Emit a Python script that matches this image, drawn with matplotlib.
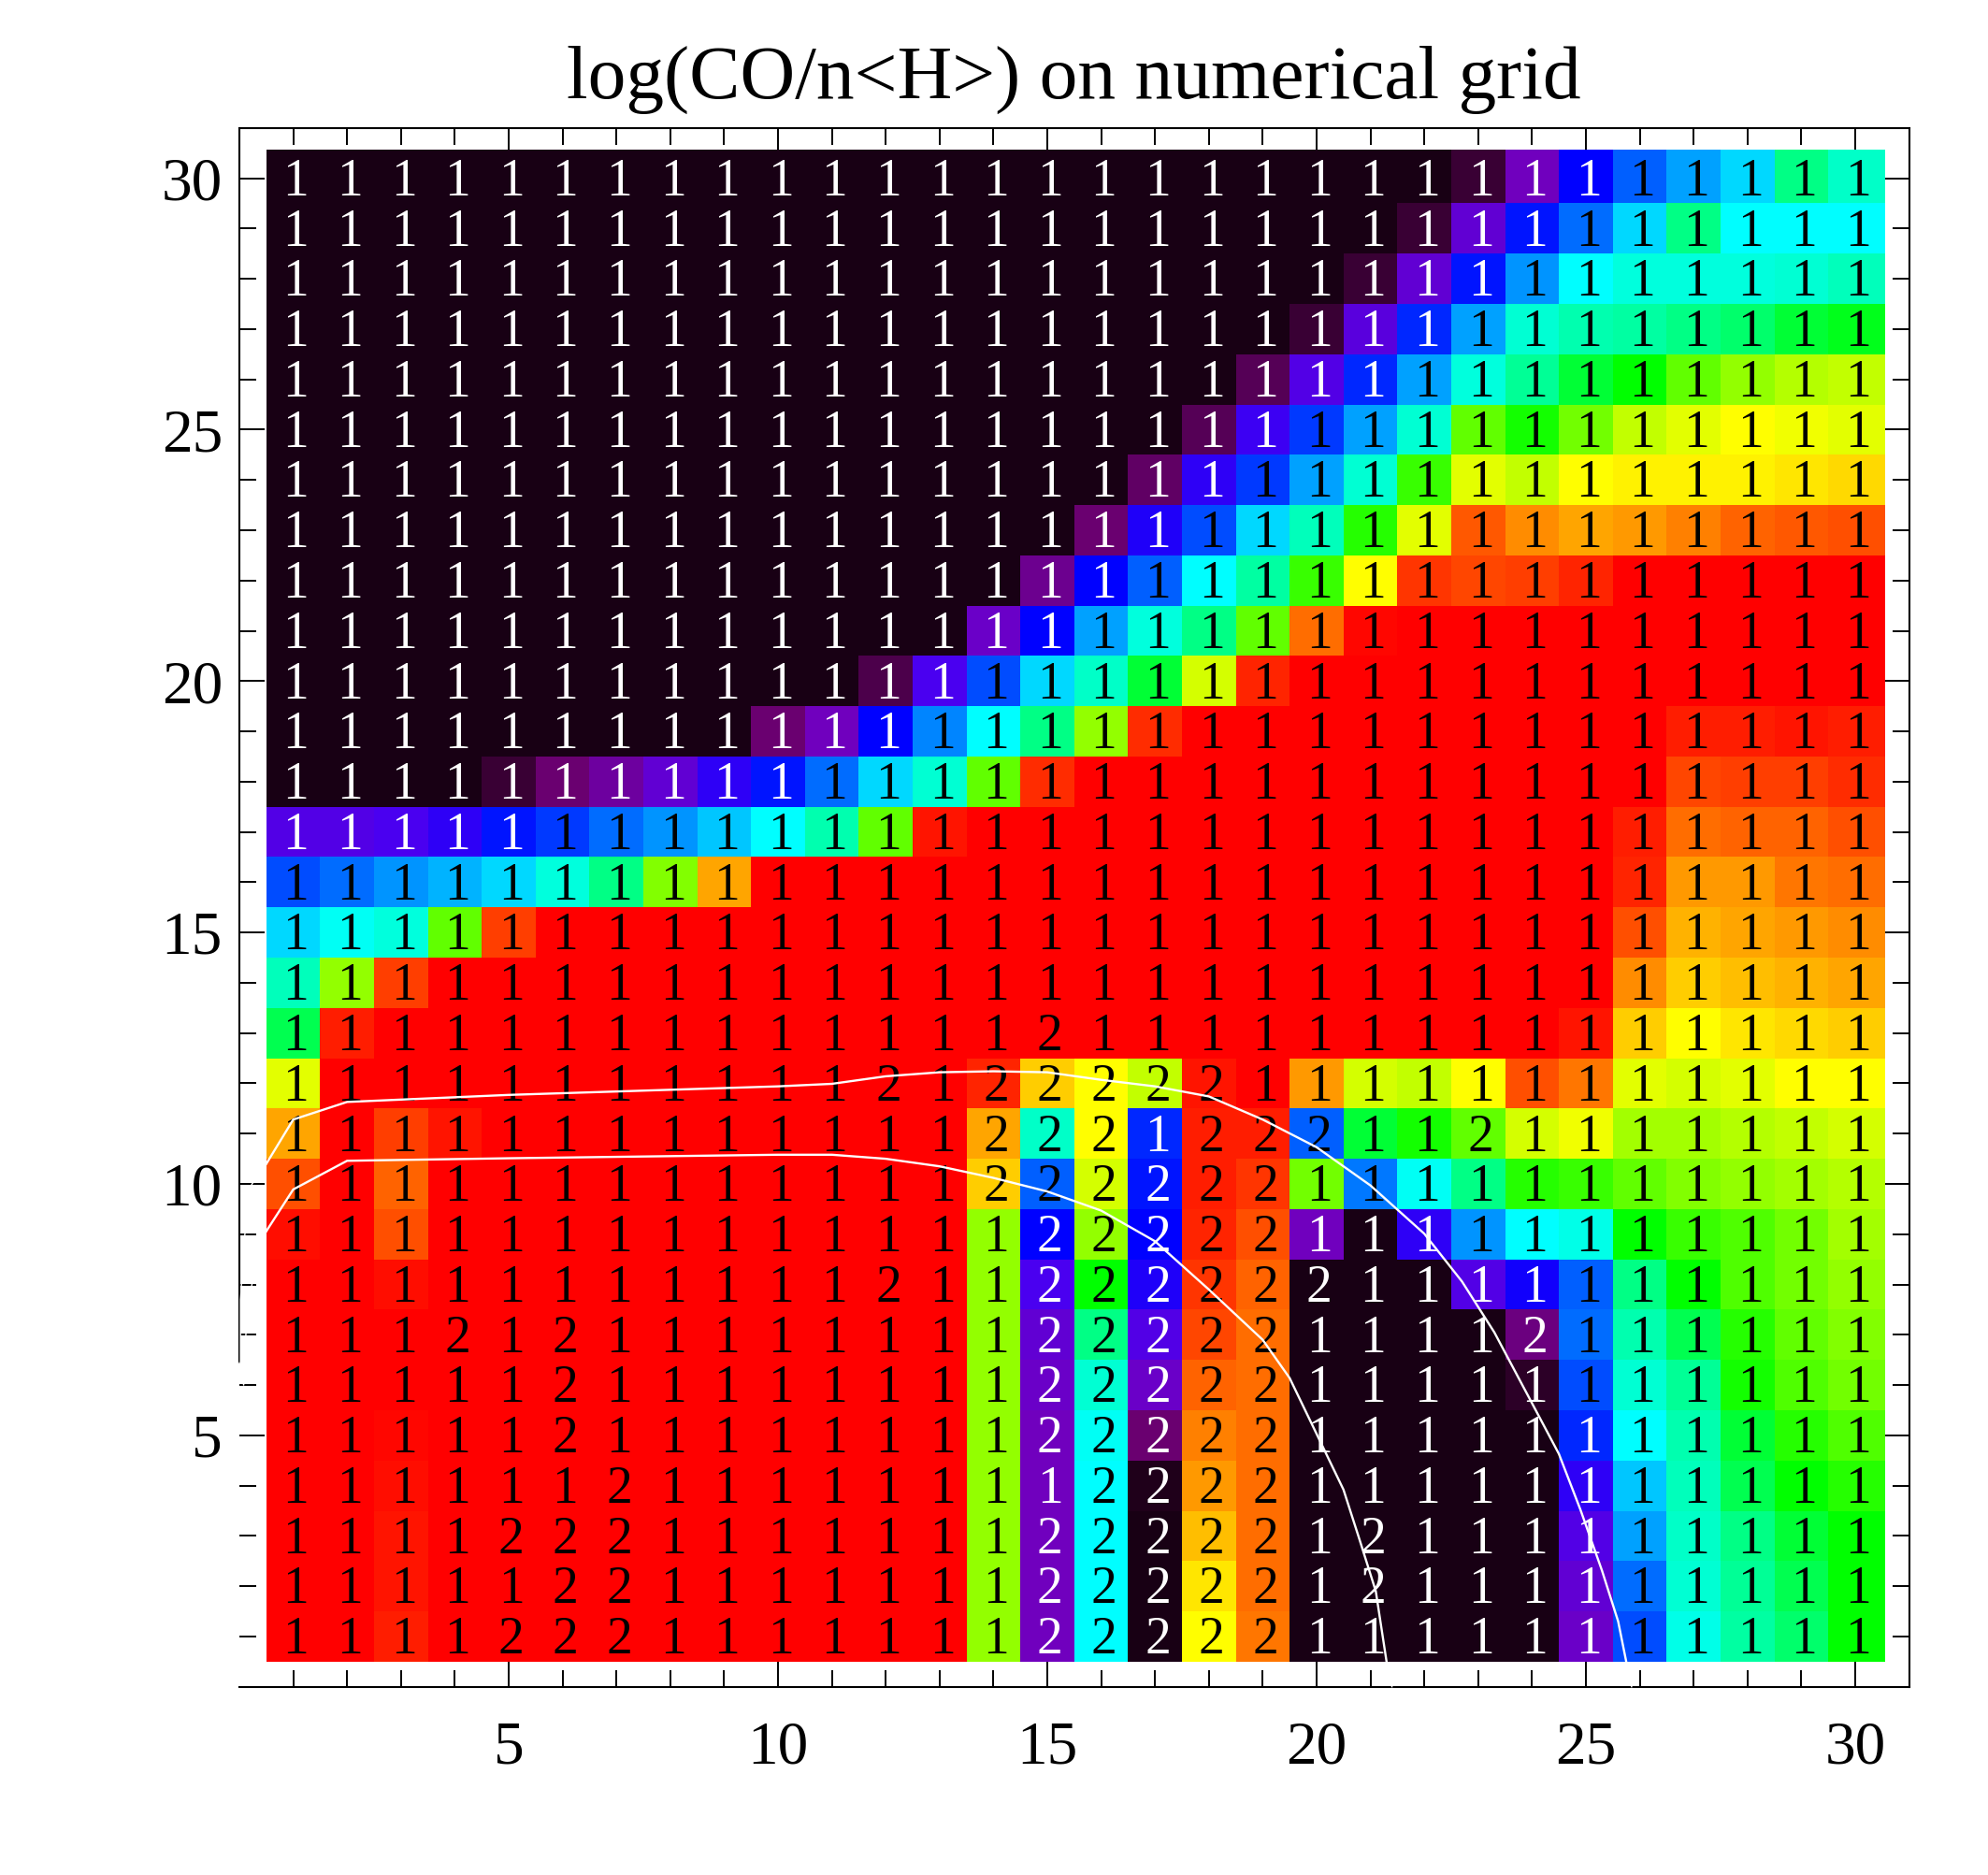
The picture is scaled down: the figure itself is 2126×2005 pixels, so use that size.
import numpy as np
import matplotlib
matplotlib.use("Agg")
import matplotlib.pyplot as plt
from matplotlib.colors import LinearSegmentedColormap

plt.rcParams['font.family'] = ['Liberation Serif', 'DejaVu Serif']

TITLE = "log(CO/n<H>) on numerical grid"
MAJOR_TICKS = [5, 10, 15, 20, 25, 30]
MINOR_TICKS = list(range(1, 31))

# Colour index per grid cell, rows listed from y=30 down to y=1
cell_rows = [
 [0,0,0,0,0,0,0,0,0,0,0,0,0,0,0,0,0,0,0,0,0,0,5,15,25,30,35,38,50,45],
 [0,0,0,0,0,0,0,0,0,0,0,0,0,0,0,0,0,0,0,0,0,5,17,26,31,38,50,40,40,40],
 [0,0,0,0,0,0,0,0,0,0,0,0,0,0,0,0,0,0,0,0,5,17,26,34,40,43,43,43,44,46],
 [0,0,0,0,0,0,0,0,0,0,0,0,0,0,0,0,0,0,0,5,18,27,35,44,47,48,50,51,53,54],
 [0,0,0,0,0,0,0,0,0,0,0,0,0,0,0,0,0,0,8,19,27,35,43,49,53,55,60,63,65,66],
 [0,0,0,0,0,0,0,0,0,0,0,0,0,0,0,0,0,8,21,28,35,44,60,56,61,66,68,70,69,68],
 [0,0,0,0,0,0,0,0,0,0,0,0,0,0,0,0,9,22,28,35,44,58,68,66,70,71,71,71,72,73],
 [0,0,0,0,0,0,0,0,0,0,0,0,0,0,0,10,23,29,38,46,57,68,84,79,77,78,80,83,84,85],
 [0,0,0,0,0,0,0,0,0,0,0,0,0,0,12,25,30,40,48,58,70,88,86,87,90,95,95,95,95,95],
 [0,0,0,0,0,0,0,0,0,0,0,0,0,16,25,35,43,50,60,82,94,95,95,95,95,95,95,95,95,95],
 [0,0,0,0,0,0,0,0,0,0,0,7,20,29,38,45,53,67,90,95,95,95,95,95,95,95,95,95,95,95],
 [0,0,0,0,0,0,0,0,0,10,15,25,33,40,50,63,89,95,95,95,95,95,95,95,95,95,91,91,92,91],
 [0,0,0,0,5,10,13,17,22,26,31,38,44,60,89,95,95,95,95,95,95,95,95,95,95,95,86,87,87,89],
 [19,19,20,22,26,28,31,34,37,40,47,60,92,95,95,95,95,95,95,95,95,95,95,95,95,91,82,83,83,85],
 [29,31,34,36,38,43,50,62,77,95,95,95,95,95,95,95,95,95,95,95,95,95,95,95,95,90,78,78,81,82],
 [38,41,43,60,87,95,95,95,95,95,95,95,95,95,95,95,95,95,95,95,95,95,95,95,95,85,76,77,78,79],
 [46,63,87,95,95,95,95,95,95,95,95,95,95,95,95,95,95,95,95,95,95,95,95,95,95,79,74,75,76,77],
 [52,91,95,95,95,95,95,95,95,95,95,95,95,95,95,95,95,95,95,95,95,95,95,95,92,74,70,72,73,74],
 [68,95,95,95,95,95,95,95,95,95,95,95,95,90,74,70,66,92,95,78,67,66,70,85,81,68,67,68,70,70],
 [77,95,87,92,95,95,95,95,95,95,95,95,95,77,45,70,27,91,91,30,53,56,60,67,69,64,64,65,66,67],
 [85,95,83,95,95,95,95,95,95,95,95,95,95,74,30,67,26,91,88,61,32,41,50,57,58,60,62,63,64,65],
 [93,95,85,95,95,95,95,95,95,95,95,95,95,63,25,63,25,90,85,15,0,22,34,40,42,55,58,59,61,64],
 [95,95,93,95,95,95,95,95,95,95,95,95,95,63,20,55,23,88,83,0,0,0,19,24,30,50,55,59,61,63],
 [95,95,95,95,95,95,95,95,95,95,95,95,95,63,17,50,19,86,82,0,0,0,0,11,31,47,52,57,60,62],
 [95,95,95,95,95,95,95,95,95,95,95,95,95,63,16,44,16,83,82,0,0,0,0,3,29,44,49,56,59,61],
 [95,95,94,95,95,95,95,95,95,95,95,95,95,63,15,41,10,80,82,0,0,0,0,0,27,40,47,53,57,59],
 [95,95,93,95,95,95,95,95,95,95,95,95,95,63,15,40,1,78,82,0,0,0,0,0,22,37,46,52,55,57],
 [95,95,92,95,95,95,95,95,95,95,95,95,95,63,15,40,0,75,82,0,0,0,0,0,19,35,45,50,53,55],
 [95,95,92,95,95,95,95,95,95,95,95,95,95,63,15,40,0,72,82,0,0,0,0,0,17,31,44,49,52,55],
 [95,95,91,95,95,95,95,95,95,95,95,95,95,63,15,40,0,70,81,0,0,0,0,0,16,29,42,48,51,55],
]

# Digit printed in each cell, same row order
digit_rows = [
 "111111111111111111111111111111",
 "111111111111111111111111111111",
 "111111111111111111111111111111",
 "111111111111111111111111111111",
 "111111111111111111111111111111",
 "111111111111111111111111111111",
 "111111111111111111111111111111",
 "111111111111111111111111111111",
 "111111111111111111111111111111",
 "111111111111111111111111111111",
 "111111111111111111111111111111",
 "111111111111111111111111111111",
 "111111111111111111111111111111",
 "111111111111111111111111111111",
 "111111111111111111111111111111",
 "111111111111111111111111111111",
 "111111111111111111111111111111",
 "111111111111112111111111111111",
 "111111111112122222111111111111",
 "111111111111122212221121111111",
 "111111111111122222211111111111",
 "111111111111112222211111111111",
 "111111111112112222221111111111",
 "111212111111112222211112111111",
 "111112111111112222211111111111",
 "111112111111112222211111111111",
 "111111211111111222211111111111",
 "111122211111112222212111111111",
 "111112211111112222212111111111",
 "111122211111112222211111111111",
]

# Contour polylines across the grid
upper_x = [0.5, 1, 2, 5, 10, 11, 12, 13, 14, 15, 16, 17, 18, 19, 20, 21, 22, 22.7, 23.3, 24, 24.5, 24.9, 25.3, 25.6, 25.75]
upper_y = [10.4, 11.28, 11.63, 11.77, 11.94, 11.99, 12.14, 12.22, 12.24, 12.22, 12.07, 11.94, 11.74, 11.28, 10.73, 9.97, 9.01, 8.06, 7.05, 5.64, 4.63, 3.52, 2.31, 1.3, 0.5]
lower_x = [0.5, 1, 2, 5, 10, 11, 12, 13, 14, 15, 16, 17, 18, 19, 19.5, 20, 20.5, 20.8, 21.1, 21.3]
lower_y = [9.06, 9.89, 10.46, 10.51, 10.58, 10.58, 10.5, 10.35, 10.12, 9.85, 9.47, 8.86, 7.9, 6.9, 6.14, 5.03, 3.92, 2.92, 1.9, 0.5]

# Thin continuations of the contours outside the cells
upper_tail_x = [0.5, 0.23, 0.1, 0.02, 0.02]
upper_tail_y = [10.4, 9.99, 8.98, 7.7, 6.44]
lower_tail_x = [0.5, 0.23, 0.12, 0.08, 0.0]
lower_tail_y = [9.06, 7.99, 7.0, 6.0, 6.44]
upper_foot_x = [25.75, 25.85]
lower_foot_x = [21.3, 21.4]
foot_y = [0.5, 0.0]

# Colour scale from near-black through violet, blue, cyan, green, yellow to red
scale_stops = [(0, '#180014'), (5, '#3a0035'), (10, '#6a0070'), (15, '#7000c0'), (20, '#4a00f0'),
               (25, '#0000ff'), (30, '#0060ff'), (35, '#00a0ff'), (40, '#00ffff'), (45, '#00ffc8'),
               (50, '#00ff88'), (55, '#00ff00'), (60, '#60ff00'), (65, '#b4ff00'), (70, '#ffff00'),
               (75, '#ffc000'), (80, '#ff8000'), (85, '#ff5000'), (90, '#ff2400'), (95, '#ff0000'),
               (100, '#ff0000')]
cmap = LinearSegmentedColormap.from_list('co_scale', [(v / 100, c) for v, c in scale_stops], N=512)

W, H = 2126, 2005
fig = plt.figure(figsize=(W / 100, H / 100), dpi=100, facecolor='white')
ax = fig.add_axes([256 / W, 1 - 1803.7 / H, (2041.5 - 256) / W, (1803.7 - 136.8) / H])

grid = np.array(cell_rows, dtype=float)[::-1]
x_edges = np.arange(0.5, 31.0)
y_edges = np.arange(0.5, 31.0)
x_edges[-1] += 0.05
y_edges[-1] += 0.07
ax.pcolormesh(x_edges, y_edges, grid, cmap=cmap, vmin=0, vmax=100, antialiased=False,
              edgecolors='none', zorder=3)

# One digit per cell, white on the dark colours and black elsewhere
for r, (vals, digits) in enumerate(zip(cell_rows, digit_rows)):
    row_y = 30 - r
    for c, (val, ch) in enumerate(zip(vals, digits)):
        ax.text(c + 1 + 0.05, row_y - 0.34, ch, ha='center', va='baseline', fontsize=40,
                color='white' if val < 28 else 'black', zorder=4)

ax.plot(upper_x, upper_y, color='white', lw=1.7, zorder=5, clip_on=False)
ax.plot(lower_x, lower_y, color='white', lw=1.7, zorder=5, clip_on=False)
for tx, ty in [(upper_tail_x, upper_tail_y), (lower_tail_x, lower_tail_y),
               (upper_foot_x, foot_y), (lower_foot_x, foot_y)]:
    ax.plot(tx, ty, color='white', lw=1.0, zorder=6, clip_on=False)

ax.set_xlim(0, 31)
ax.set_ylim(0, 31)
ax.set_xticks(MAJOR_TICKS)
ax.set_yticks(MAJOR_TICKS)
ax.set_xticks(MINOR_TICKS, minor=True)
ax.set_yticks(MINOR_TICKS, minor=True)
ax.tick_params(which='major', direction='in', length=19.5, width=1.4, top=True, right=True,
               labelsize=47)
ax.tick_params(which='minor', direction='in', length=12.7, width=1.4, top=True, right=True)
ax.tick_params(axis='x', which='major', pad=26)
ax.tick_params(axis='y', which='major', pad=13)
for side in ax.spines.values():
    side.set_linewidth(1.5)
ax.spines['left'].set_bounds(6.44, 31)

ax.set_title(TITLE, fontsize=58.6, pad=23)

fig.savefig('out.png', dpi=100, facecolor='white')
